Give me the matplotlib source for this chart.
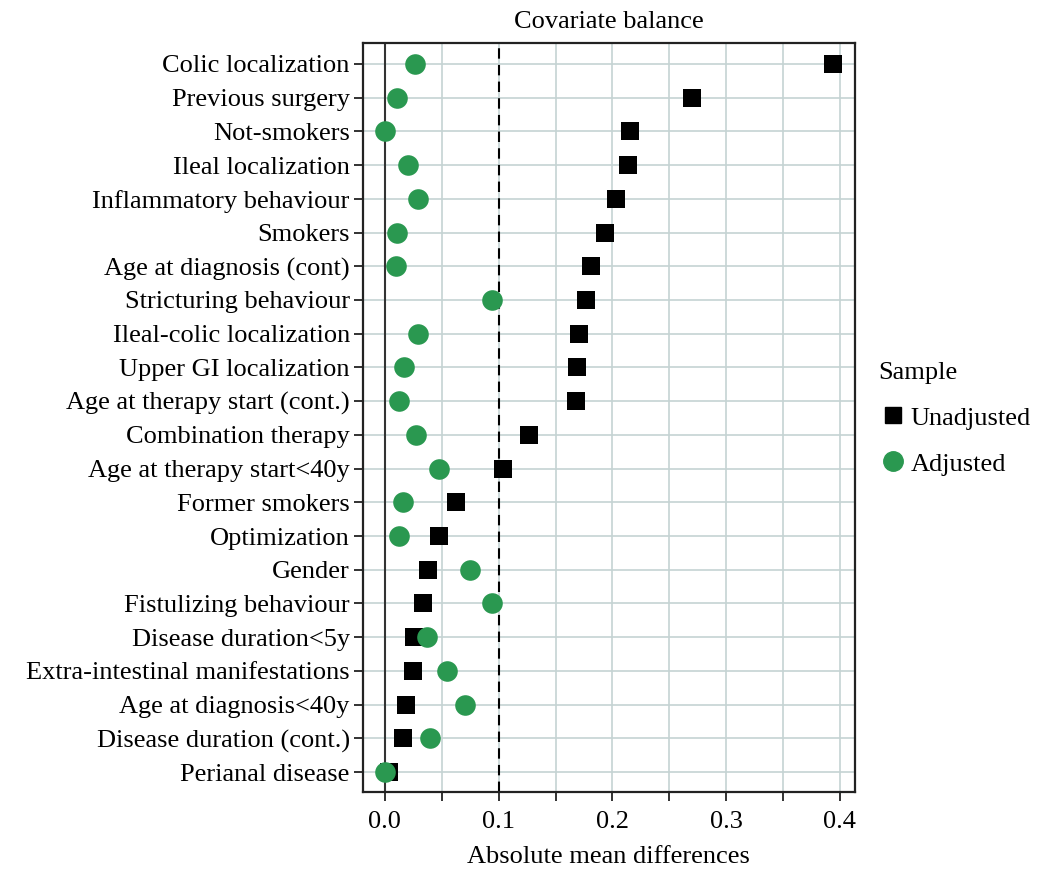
import matplotlib
matplotlib.use("Agg")
import matplotlib.pyplot as plt
from matplotlib.lines import Line2D
import numpy as np

plt.rcParams['font.family'] = ['Liberation Serif', 'DejaVu Serif']

# covariates, top to bottom
covariates = [
    "Colic localization", "Previous surgery", "Not-smokers", "Ileal localization",
    "Inflammatory behaviour", "Smokers", "Age at diagnosis (cont)",
    "Stricturing behaviour", "Ileal-colic localization", "Upper GI localization",
    "Age at therapy start (cont.)", "Combination therapy",
    "Age at therapy start<40y", "Former smokers", "Optimization", "Gender",
    "Fistulizing behaviour", "Disease duration<5y",
    "Extra-intestinal manifestations", "Age at diagnosis<40y",
    "Disease duration (cont.)", "Perianal disease",
]
unadjusted = [0.394, 0.270, 0.2155, 0.214, 0.203, 0.1935, 0.181, 0.177, 0.1706,
              0.169, 0.168, 0.1266, 0.1038, 0.0624, 0.0475, 0.0378, 0.0334,
              0.0255, 0.0246, 0.0185, 0.0158, 0.004]
adjusted = [0.0264, 0.0106, 0.0, 0.020, 0.029, 0.0106, 0.0097, 0.094, 0.029,
            0.0167, 0.0123, 0.027, 0.0475, 0.0158, 0.0123, 0.0748, 0.094,
            0.037, 0.0545, 0.070, 0.040, 0.0]

green = '#2a9850'
grid_col = '#c5d3d3'
fs = 19

fig = plt.figure(figsize=(10.4, 8.69), dpi=100)
ax = fig.add_axes([0.349, 0.0886, 0.473, 0.8619])

n = len(covariates)
ypos = np.arange(n, 0, -1)

# grid
for x in np.arange(0, 0.45, 0.05):
    ax.axvline(x, color=grid_col, lw=1.2, zorder=0)
for y in ypos:
    ax.axhline(y, color=grid_col, lw=1.2, zorder=0)

ax.axvline(0, color='#333333', lw=1.5, zorder=1)
ax.axvline(0.1, color='black', lw=1.5, ls=(0, (5, 3)), zorder=1)

ax.scatter(unadjusted, ypos, marker='s', s=150, color='black', zorder=3,
           linewidths=0)
ax.scatter(adjusted, ypos, marker='o', s=220, color=green, zorder=4,
           linewidths=0)

ax.set_xlim(-0.0193, 0.4132)
ax.set_ylim(0.41, n + 0.62)
ax.set_yticks(ypos)
ax.set_yticklabels(covariates, fontsize=fs)
ax.set_xticks(np.arange(0, 0.45, 0.05))
ax.set_xticklabels(['0.0', '', '0.1', '', '0.2', '', '0.3', '', '0.4'], fontsize=fs)
ax.tick_params(length=6.5, width=1.3, color='#222222', pad=3)
ax.tick_params(axis='x', pad=7.5)
for s in ax.spines.values():
    s.set_linewidth(1.6)
    s.set_color('#222222')

ax.set_xlabel('Absolute mean differences', fontsize=fs, labelpad=9)
ax.set_title('Covariate balance', fontsize=fs, pad=11)

handles = [
    Line2D([], [], marker='s', color='black', ls='', markersize=11),
    Line2D([], [], marker='o', color=green, ls='', markersize=14),
]
leg = fig.legend(handles, ['Unadjusted', 'Adjusted'], title='Sample',
                 loc='upper left', bbox_to_anchor=(0.822, 0.611),
                 frameon=False, fontsize=fs, title_fontsize=fs,
                 handletextpad=0.1, labelspacing=0.85, handlelength=1.1)
leg._legend_box.align = 'left'

fig.savefig('out.png', dpi=100)
